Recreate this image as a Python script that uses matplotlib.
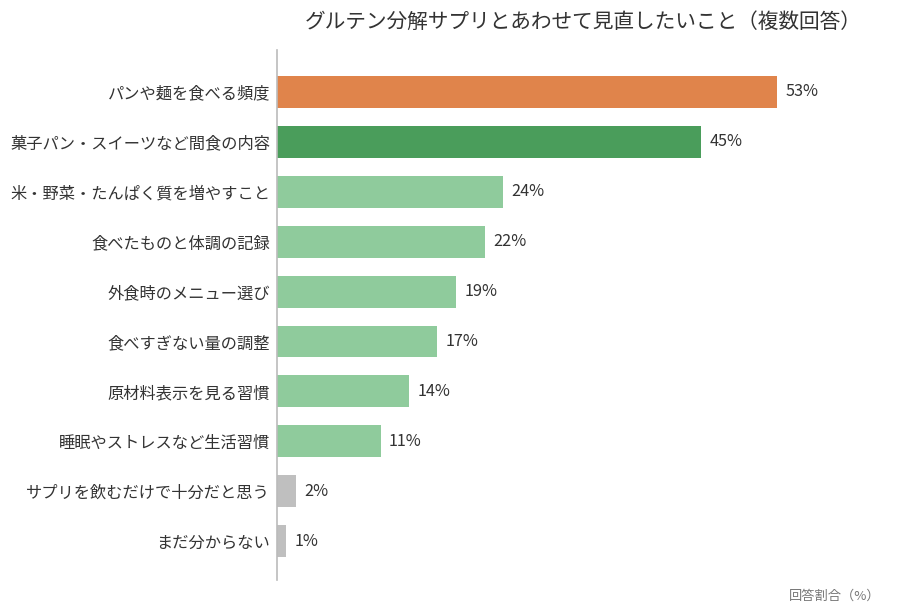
import matplotlib
matplotlib.use("Agg")
import matplotlib.pyplot as plt

plt.rcParams['font.family'] = ['Noto Sans CJK JP', 'DejaVu Sans']

categories = [
    "パンや麺を食べる頻度",
    "菓子パン・スイーツなど間食の内容",
    "米・野菜・たんぱく質を増やすこと",
    "食べたものと体調の記録",
    "外食時のメニュー選び",
    "食べすぎない量の調整",
    "原材料表示を見る習慣",
    "睡眠やストレスなど生活習慣",
    "サプリを飲むだけで十分だと思う",
    "まだ分からない",
]
values = [53, 45, 24, 22, 19, 17, 14, 11, 2, 1]
colors = ["#E0844B", "#4A9D5B"] + ["#8FCB9C"] * 6 + ["#BFBFBF"] * 2

title = "グルテン分解サプリとあわせて見直したいこと（複数回答）"
xlabel = "回答割合（%）"

fig = plt.figure(figsize=(8.99, 6.11), dpi=100)
ax = fig.add_axes([0.3081, 0.0507, 0.6296, 0.8674])

pos = list(range(len(categories)))
ax.barh(pos, values, height=0.64, color=colors)
ax.set_xlim(0, 60)
ax.set_ylim(9.78, -0.84)

ax.set_yticks(pos)
ax.set_yticklabels(categories, fontsize=11.7, color="#333333")
ax.tick_params(axis='y', length=0, pad=5)
ax.set_xticks([])

for s in ["top", "right", "bottom"]:
    ax.spines[s].set_visible(False)
ax.spines["left"].set_color("#BBBBBB")
ax.spines["left"].set_linewidth(1.2)

for p, v in zip(pos, values):
    ax.annotate(f"{v}%", (v, p), xytext=(6, 0), textcoords="offset points",
                va="center", ha="left", fontsize=11.7, color="#333333")

fig.text(583 / 899, 1 - 22 / 611, title, ha="center", va="center",
         fontsize=14.9, color="#333333")
fig.text(881 / 899, 1 - 596 / 611, xlabel, ha="right", va="center",
         fontsize=9.5, color="#777777")

fig.savefig("out.png", dpi=100)
